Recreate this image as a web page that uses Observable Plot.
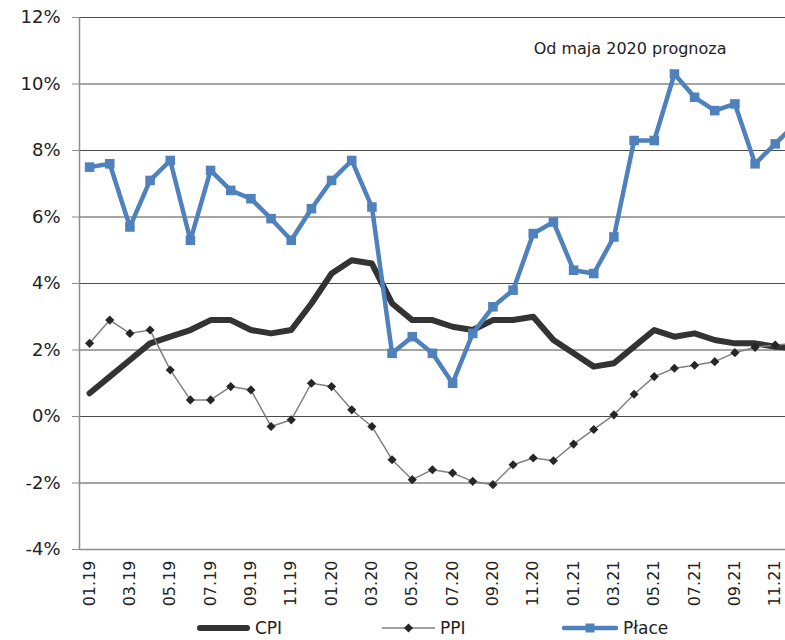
<!DOCTYPE html>
<html>
<head>
<meta charset="utf-8">
<script src="https://cdn.jsdelivr.net/npm/d3@7"></script>
<script src="https://cdn.jsdelivr.net/npm/@observablehq/plot@0.6"></script>
<style>
  html, body { margin: 0; padding: 0; background: white; }
  body { width: 785px; overflow: hidden; font-family: "DejaVu Sans", sans-serif; }
  #chart svg { overflow: hidden; display: block; }
  #legend { position: relative; width: 785px; height: 25px; color: #222; font-size: 17px; }
  .item { position: absolute; top: 0; height: 25px; display: flex; align-items: center; }
  .item svg { display: block; margin-right: 5px; }
</style>
</head>
<body>
<div id="chart"></div>
<div id="legend"></div>
<script>
const months = ["01.19","02.19","03.19","04.19","05.19","06.19","07.19","08.19","09.19","10.19","11.19","12.19",
                "01.20","02.20","03.20","04.20","05.20","06.20","07.20","08.20","09.20","10.20","11.20","12.20",
                "01.21","02.21","03.21","04.21","05.21","06.21","07.21","08.21","09.21","10.21","11.21","12.21"];
const cpi = [0.7,1.2,1.7,2.2,2.4,2.6,2.9,2.9,2.6,2.5,2.6,3.4,
             4.3,4.7,4.6,3.4,2.9,2.9,2.7,2.6,2.9,2.9,3.0,2.3,
             1.9,1.5,1.6,2.1,2.6,2.4,2.5,2.3,2.2,2.2,2.1,2.05];
const ppi = [2.2,2.9,2.5,2.6,1.4,0.5,0.5,0.9,0.8,-0.3,-0.1,1.0,
             0.9,0.2,-0.3,-1.3,-1.9,-1.6,-1.7,-1.95,-2.05,-1.45,-1.25,-1.33,
             -0.83,-0.39,0.05,0.67,1.2,1.45,1.54,1.65,1.92,2.08,2.15,2.2];
const place = [7.5,7.6,5.7,7.1,7.7,5.3,7.4,6.8,6.55,5.95,5.3,6.25,
               7.1,7.7,6.3,1.9,2.4,1.9,1.0,2.5,3.3,3.8,5.5,5.85,
               4.4,4.3,5.4,8.3,8.3,10.3,9.6,9.2,9.4,7.6,8.2,8.8];
const yTicks = [-4,-2,0,2,4,6,8,10,12];
const xTickIdx = months.map((m, i) => i).filter(i => i % 2 === 0);
const seriesNames = ["CPI", "PPI", "Płace"];
const note = [{x: 26.8, y: 11.07, text: "Od maja 2020 prognoza"}];

const data = months.map((m, i) => ({i, m, cpi: cpi[i], ppi: ppi[i], place: place[i]}));

const chart = Plot.plot({
  width: 785,
  height: 615,
  marginLeft: 79,
  marginRight: 0,
  marginTop: 17,
  marginBottom: 66,
  style: {fontFamily: "DejaVu Sans, sans-serif", background: "white", color: "#222"},
  x: {domain: [-0.5, 35.5], range: [79, 805], label: null},
  y: {domain: [-4, 12], label: null},
  marks: [
    Plot.ruleY(yTicks.filter(d => d > -4), {stroke: "#4a4a4a", strokeWidth: 1}),
    Plot.ruleY([-4], {stroke: "#8c8c8c", strokeWidth: 1.5}),
    Plot.ruleX([-0.5], {y1: -4, y2: 12, stroke: "#8c8c8c", strokeWidth: 1.5}),
    Plot.axisY(yTicks, {tickSize: 7, tickPadding: 12, tickFormat: d => d + "%", fontSize: 18, stroke: "#8c8c8c", fill: "#222", label: null}),
    Plot.axisX(xTickIdx, {tickSize: 0, tickPadding: 11, tickRotate: -90, tickFormat: i => months[i], fontSize: 16, fill: "#222", label: null}),
    Plot.line(data, {x: "i", y: "cpi", stroke: "#333333", strokeWidth: 6, strokeLinejoin: "round", strokeLinecap: "round"}),
    Plot.line(data, {x: "i", y: "ppi", stroke: "#808080", strokeWidth: 1.5}),
    Plot.dot(data, {x: "i", y: "ppi", symbol: "diamond2", r: 4.1, fill: "#262626", stroke: "none"}),
    Plot.line(data, {x: "i", y: "place", stroke: "#4F81BD", strokeWidth: 4.5, strokeLinejoin: "round"}),
    Plot.dot(data, {x: "i", y: "place", symbol: "square", r: 5.4, fill: "#4F81BD", stroke: "none"}),
    Plot.text(note, {x: "x", y: "y", text: "text", fontSize: 16, fill: "#222"})
  ]
});
document.getElementById("chart").appendChild(chart);

// legend
const legend = d3.select("#legend");
const legendItems = [
  {name: seriesNames[0], left: 197, kind: "cpi"},
  {name: seriesNames[1], left: 382, kind: "ppi"},
  {name: seriesNames[2], left: 562, kind: "place"}
];
for (const it of legendItems) {
  const div = legend.append("div").attr("class", "item").style("left", it.left + "px");
  const w = it.kind === "place" ? 56 : 53;
  const s = div.append("svg").attr("width", w).attr("height", 20);
  if (it.kind === "cpi") {
    s.append("line").attr("x1", 3).attr("x2", w - 3).attr("y1", 10).attr("y2", 10)
      .attr("stroke", "#333").attr("stroke-width", 6).attr("stroke-linecap", "round");
  } else if (it.kind === "ppi") {
    s.append("line").attr("x1", 0).attr("x2", w).attr("y1", 10).attr("y2", 10)
      .attr("stroke", "#808080").attr("stroke-width", 1.5);
    s.append("path").attr("d", d3.symbol(d3.symbolDiamond2, Math.PI * 4.1 * 4.1)())
      .attr("transform", `translate(${w / 2},10)`).attr("fill", "#262626");
  } else {
    s.append("line").attr("x1", 2).attr("x2", w - 2).attr("y1", 10).attr("y2", 10)
      .attr("stroke", "#4F81BD").attr("stroke-width", 4.5).attr("stroke-linecap", "round");
    s.append("rect").attr("x", w / 2 - 4.5).attr("y", 5.5).attr("width", 9).attr("height", 9).attr("fill", "#4F81BD");
  }
  div.append("span").text(it.name);
}
</script>
</body>
</html>
